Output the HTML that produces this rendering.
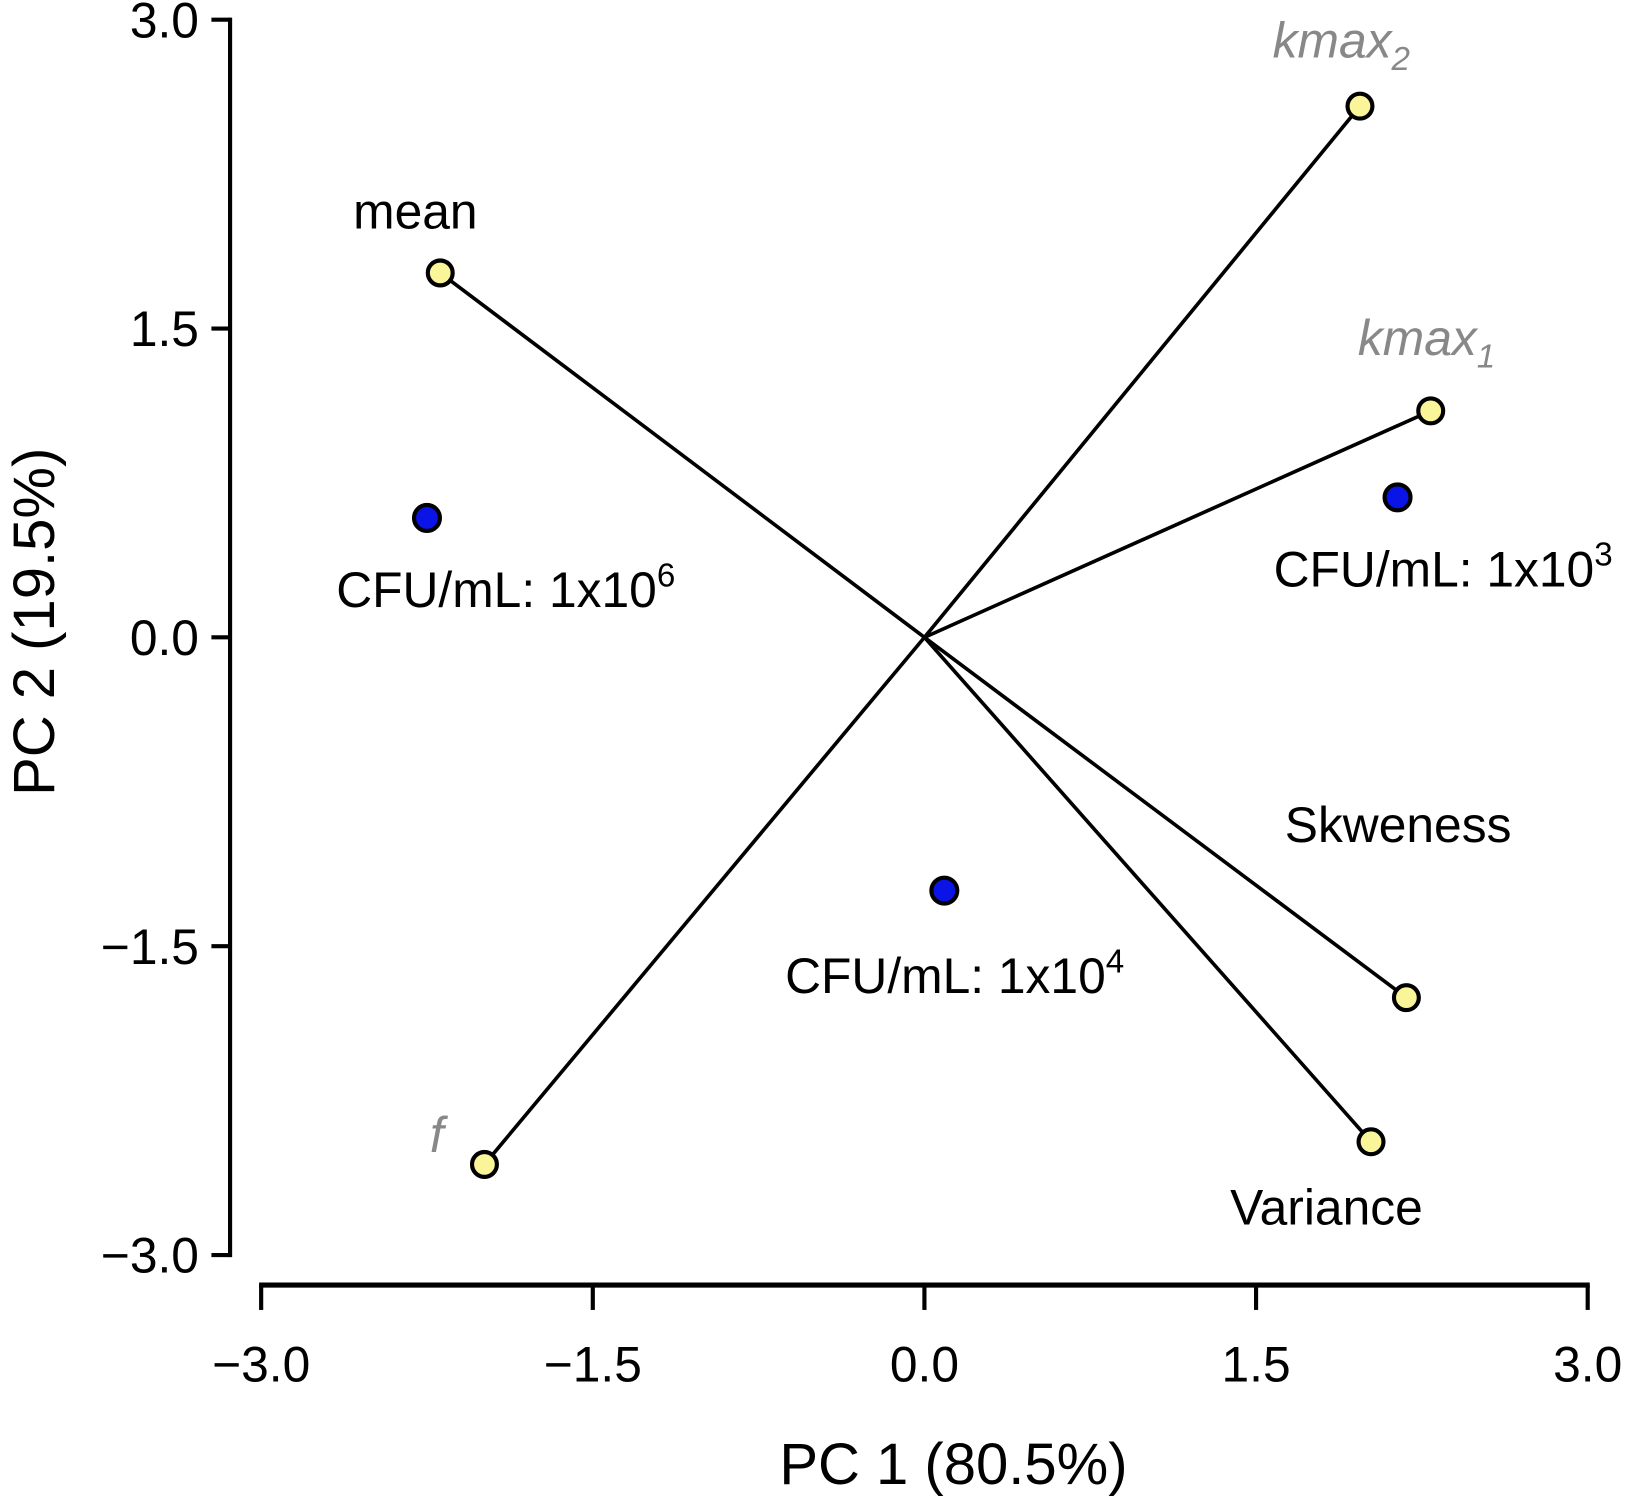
<!DOCTYPE html>
<html><head><meta charset="utf-8"><style>
html,body{margin:0;padding:0;background:#fff;}
svg{display:block;}
text{font-family:"Liberation Sans",Arial,sans-serif;}
</style></head><body>
<svg id="chart" width="1625" height="1511" viewBox="0 0 1568 1458" preserveAspectRatio="none" xmlns="http://www.w3.org/2000/svg">
<g id="axes"></g>
<g id="vectors"></g>
<g id="points"></g>
<g id="labels"></g>
</svg>
<script>
const xTicks = [-3.0, -1.5, 0.0, 1.5, 3.0];
const yTicks = [3.0, 1.5, 0.0, -1.5, -3.0];
const tickLabels = ["\u22123.0", "\u22121.5", "0.0", "1.5", "3.0"];
const varNames = ["mean", "kmax2", "kmax1", "Skweness", "Variance", "f"];
const varX = [-2.19, 1.97, 2.29, 2.18, 2.02, -1.99];
const varY = [1.77, 2.58, 1.10, -1.75, -2.45, -2.56];
const grpNames = ["CFU/mL: 1x10^6", "CFU/mL: 1x10^3", "CFU/mL: 1x10^4"];
const grpX = [-2.25, 2.14, 0.09];
const grpY = [0.58, 0.68, -1.23];

const NS = "http://www.w3.org/2000/svg";
function sx(v){ return 892 + v * (1535 - 255) / 6; }
function sy(v){ return 615 - v * (1210 - 18) / 6; }
function mk(tag, attrs, parent){
  const e = document.createElementNS(NS, tag);
  for (const k in attrs) e.setAttribute(k, attrs[k]);
  parent.appendChild(e);
  return e;
}
const axes = document.getElementById('axes');
const vecs = document.getElementById('vectors');
const pts = document.getElementById('points');
const labs = document.getElementById('labels');

let yl = mk('line', {x1:222, y1:sy(3)-2, x2:222, y2:sy(-3)+2, stroke:'#000', 'stroke-width':4}, axes);


yTicks.forEach((t, i) => {
  const tk = mk('line', {x1:204, y1:sy(t), x2:222, y2:sy(t), stroke:'#000', 'stroke-width':4}, axes);
  
  
  const tl = mk('text', {x:192, y:sy(t) + 17, 'font-size':48, 'text-anchor':'end'}, axes);
  tl.textContent = tickLabels[xTicks.indexOf(t)];
  
  
});
let xl = mk('line', {x1:sx(-3)-2, y1:1240, x2:sx(3)+2, y2:1240, stroke:'#000', 'stroke-width':5}, axes);


xTicks.forEach((t, i) => {
  const tk = mk('line', {x1:sx(t), y1:1240, x2:sx(t), y2:1264, stroke:'#000', 'stroke-width':4}, axes);
  
  
  const tl = mk('text', {x:sx(t), y:1333, 'font-size':48, 'text-anchor':'middle'}, axes);
  tl.textContent = tickLabels[i];
  
  
});
let xt = mk('text', {x:920, y:1432, 'font-size':56, 'text-anchor':'middle'}, axes);
xt.textContent = 'PC 1 (80.5%)';


let yt = mk('text', {x:0, y:0, 'font-size':56, 'text-anchor':'middle', transform:'translate(52,600) rotate(-90)'}, axes);
yt.textContent = 'PC 2 (19.5%)';



varNames.forEach((n, i) => {
  const l = mk('line', {x1:sx(0), y1:sy(0), x2:sx(varX[i]), y2:sy(varY[i]), stroke:'#000', 'stroke-width':3.5}, vecs);
  
  
});
varNames.forEach((n, i) => {
  const c = mk('circle', {cx:sx(varX[i]), cy:sy(varY[i]), r:12, fill:'#fbf59a', stroke:'#000', 'stroke-width':4}, pts);
  
  
});
grpNames.forEach((n, i) => {
  const c = mk('circle', {cx:sx(grpX[i]), cy:sy(grpY[i]), r:12.5, fill:'#0a14e6', stroke:'#000', 'stroke-width':4}, pts);
  
  
});

const off = {mean:[-24,-43], kmax2:[-18,-47], kmax1:[-4,-54], Skweness:[-8,-150], Variance:[-43,80], f:[-46,-12]};
varNames.forEach((n, i) => {
  const o = off[n];
  const gray = (n === 'kmax1' || n === 'kmax2' || n === 'f');
  const t = mk('text', {x:sx(varX[i]) + o[0], y:sy(varY[i]) + o[1], 'font-size':48, 'text-anchor':'middle', fill: gray ? '#888' : '#000', 'font-style': gray ? 'italic' : 'normal'}, labs);
  if (n.startsWith('kmax')) {
    t.appendChild(document.createTextNode('kmax'));
    const s = mk('tspan', {'font-size':32, dy:12}, t);
    s.textContent = n.slice(4);
  } else {
    t.textContent = n;
  }
  
  
});
const goff = [[76, 86], [44, 86], [10, 99]];
grpNames.forEach((n, i) => {
  const parts = n.split('^');
  const t = mk('text', {x:sx(grpX[i]) + goff[i][0], y:sy(grpY[i]) + goff[i][1], 'font-size':48, 'text-anchor':'middle'}, labs);
  t.appendChild(document.createTextNode(parts[0]));
  const s = mk('tspan', {'font-size':32, dy:-20}, t);
  s.textContent = parts[1];
  
  
});
</script>
</body></html>
